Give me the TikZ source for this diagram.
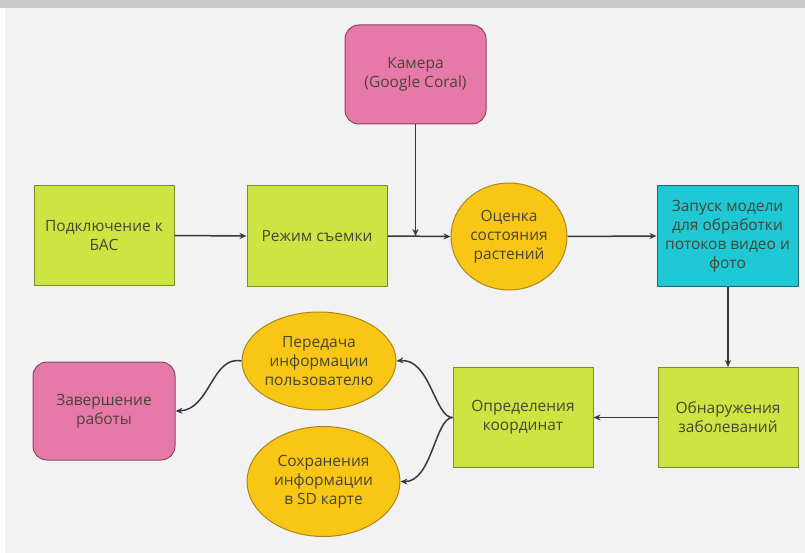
\documentclass[tikz,border=0pt]{standalone}
\usepackage{fontspec}
\setmainfont{Open Sans}
\usetikzlibrary{shapes.geometric,arrows.meta}
\definecolor{bgc}{RGB}{242,242,242}
\definecolor{topband}{RGB}{201,201,201}
\definecolor{limef}{RGB}{206,228,66}
\definecolor{limed}{RGB}{120,140,40}
\definecolor{pinkf}{RGB}{231,121,168}
\definecolor{pinkd}{RGB}{140,70,100}
\definecolor{yelf}{RGB}{249,198,22}
\definecolor{yeld}{RGB}{170,135,30}
\definecolor{cyanf}{RGB}{30,200,212}
\definecolor{cyand}{RGB}{40,100,110}
\definecolor{txt}{RGB}{70,70,55}
\definecolor{arr}{RGB}{55,57,65}
\tikzset{
  base/.style={text=txt, align=center, font=\fontsize{15.5}{19}\selectfont, inner sep=1pt, line width=1pt},
  gbox/.style={base, rectangle, fill=limef, draw=limed, minimum width=140pt, minimum height=100pt},
  pbox/.style={base, rectangle, rounded corners=14pt, fill=pinkf, draw=pinkd, minimum width=141pt, minimum height=99pt},
  cbox/.style={base, rectangle, fill=cyanf, draw=cyand, minimum width=141pt, minimum height=100pt},
  yell/.style={base, ellipse, fill=yelf, draw=yeld, inner sep=0pt},
  conn/.style={draw=arr, line width=1.5pt, -{Stealth[length=7pt,width=6pt]}}
}
\begin{document}
\begin{tikzpicture}[x=1pt,y=-1pt]
\fill[bgc] (0,0) rectangle (805,553);
\fill[white] (0,0) rectangle (5,553);
\fill[topband] (0,0) rectangle (805,8);
\useasboundingbox (0,0) rectangle (805,553);

\node[pbox] (cam) at (415.5,74.5) {Камера\\(Google Coral)};
\node[gbox] (bas) at (104,235.5) {Подключение к\\БАС};
\node[gbox] (mode) at (317,236) {Режим съемки};
\node[yell, minimum width=116pt, minimum height=107pt] (eval) at (509,236.5) {Оценка\\состояния\\растений};
\node[cbox] (run) at (727.5,236) {Запуск модели\\для обработки\\потоков видео и\\фото};
\node[gbox] (det) at (728,417.5) {Обнаружения\\заболеваний};
\node[gbox] (coord) at (523,417.5) {Определения\\координат};
\node[yell, minimum width=154pt, minimum height=98pt] (send) at (319,361) {Передача\\информации\\пользователю};
\node[yell, minimum width=153pt, minimum height=110pt] (save) at (323.5,481.5) {Сохранения\\информации\\в SD карте};
\node[pbox, minimum width=142pt, minimum height=98pt] (end) at (104,411) {Завершение\\работы};

\coordinate (join) at (cam.south |- mode.east);
\draw[conn] (bas.east) -- (mode.west);
\draw[conn] (mode.east) -- (eval.west);
\draw[conn] (cam.south) -- (join);
\draw[conn] (eval.east) -- (run.west);
\draw[conn] (run.south -| det.north) -- (det.north);
\draw[conn] (det.west) -- (coord.west -| coord.east);
\draw[conn] (coord.west) .. controls (435,418) and (430,358) .. (send.east);
\draw[conn] (coord.west) .. controls (435,418) and (432,482) .. (save.east);
\draw[conn] (send.west) .. controls (212,355) and (210,410) .. (end.east);
\end{tikzpicture}
\end{document}
